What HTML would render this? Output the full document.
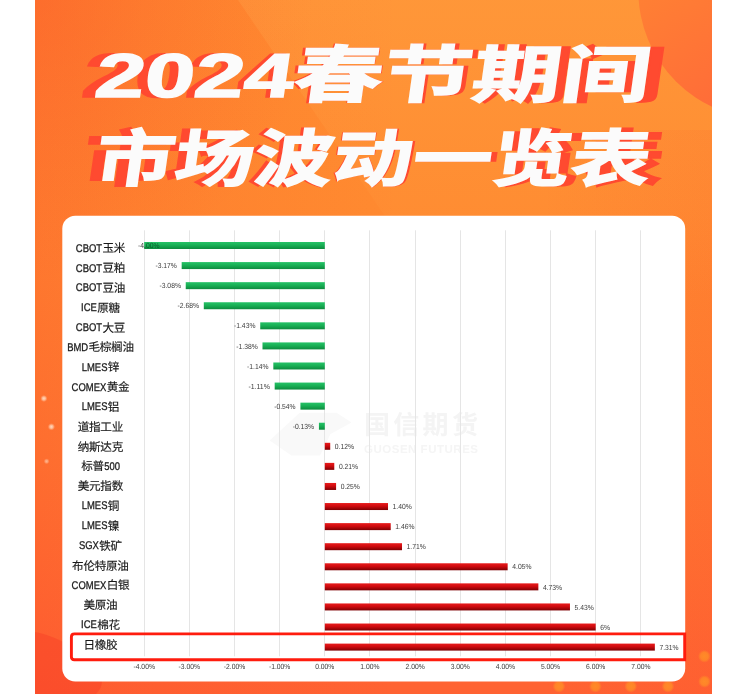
<!DOCTYPE html>
<html lang="zh"><head><meta charset="utf-8"><title>2024春节期间市场波动一览表</title>
<style>html,body{margin:0;padding:0;background:#fff}body{width:733px;height:694px;overflow:hidden;position:relative}svg{display:block;will-change:transform}text{font-family:"Liberation Sans",sans-serif;text-rendering:geometricPrecision}.t{position:absolute;left:0;top:0;width:733px;height:694px;overflow:hidden;color:transparent;font-family:"Liberation Sans",sans-serif;font-size:11px;line-height:13px;pointer-events:none}.t h1,.t span{position:absolute;margin:0;white-space:nowrap;font-weight:normal}.cj{font-family:"Liberation Sans","Noto Sans CJK SC",sans-serif}</style>
</head><body>
<svg width="733" height="694" viewBox="0 0 733 694">
<defs>
<linearGradient id="bg" x1="0" y1="0" x2="0" y2="1">
<stop offset="0" stop-color="#ff8e30"/><stop offset="0.3" stop-color="#ff8a30"/><stop offset="0.65" stop-color="#ff7a31"/><stop offset="1" stop-color="#ff6232"/></linearGradient>
<linearGradient id="bgl" gradientUnits="userSpaceOnUse" x1="35" y1="0" x2="400" y2="0">
<stop offset="0" stop-color="#fa3c28" stop-opacity="0.2"/><stop offset="0.3" stop-color="#fa3c28" stop-opacity="0.11"/><stop offset="1" stop-color="#fa3c28" stop-opacity="0"/></linearGradient>
<linearGradient id="bgr" gradientUnits="userSpaceOnUse" x1="712" y1="0" x2="540" y2="0"><stop offset="0" stop-color="#fa3c28" stop-opacity="0.09"/><stop offset="1" stop-color="#fa3c28" stop-opacity="0"/></linearGradient>
<radialGradient id="tl" gradientUnits="userSpaceOnUse" cx="35" cy="0" r="280"><stop offset="0" stop-color="#fa3c28" stop-opacity="0.25"/><stop offset="1" stop-color="#fa3c28" stop-opacity="0"/></radialGradient>
<linearGradient id="gg" x1="0" y1="0" x2="0" y2="1"><stop offset="0" stop-color="#27c268"/><stop offset="0.45" stop-color="#18b055"/><stop offset="1" stop-color="#0d8a3e"/></linearGradient>
<linearGradient id="rg" x1="0" y1="0" x2="0" y2="1"><stop offset="0" stop-color="#e81c1c"/><stop offset="0.45" stop-color="#cf0a0e"/><stop offset="1" stop-color="#7e0003"/></linearGradient>
<linearGradient id="cg" gradientUnits="userSpaceOnUse" x1="640" y1="0" x2="712" y2="110"><stop offset="0" stop-color="#ff7f34"/><stop offset="1" stop-color="#ff6c38"/></linearGradient>
<radialGradient id="glow"><stop offset="0" stop-color="#ffe6d2"/><stop offset="0.45" stop-color="#ffd0b0" stop-opacity="0.85"/><stop offset="1" stop-color="#ffb088" stop-opacity="0"/></radialGradient>
<linearGradient id="lt" x1="0" y1="0" x2="0" y2="1"><stop offset="0" stop-color="#ffd070" stop-opacity="0.13"/><stop offset="1" stop-color="#ffd070" stop-opacity="0"/></linearGradient>
<radialGradient id="dotg"><stop offset="0" stop-color="#ff9226" stop-opacity="0.85"/><stop offset="0.6" stop-color="#ff9226" stop-opacity="0.7"/><stop offset="1" stop-color="#ff9226" stop-opacity="0"/></radialGradient>
<clipPath id="oc"><rect x="35" y="0" width="677" height="694"/></clipPath>
<clipPath id="b0"><rect x="144.2" y="242" width="180.6" height="7"/></clipPath>
</defs>
<rect x="0" y="0" width="733" height="694" fill="#fff"/>
<g clip-path="url(#oc)">
<rect x="35" y="0" width="677" height="694" fill="url(#bg)"/>
<rect x="35" y="0" width="677" height="694" fill="url(#bgl)"/>
<rect x="35" y="0" width="300" height="300" fill="url(#tl)"/>
<rect x="540" y="130" width="172" height="564" fill="url(#bgr)"/>
<polygon points="238,0 712,0 712,300 442,300" fill="url(#lt)"/>
<path d="M35,632C55,636 80,648 95,666C104,678 104,686 96,694L35,694Z" fill="#f93c26" fill-opacity="0.42"/>
<circle cx="767" cy="-9.5" r="128.7" fill="url(#cg)"/>
<circle cx="704.4" cy="656.3" r="6.4" fill="url(#dotg)"/>
<circle cx="704.5" cy="681.5" r="6.4" fill="url(#dotg)"/>
<circle cx="595.4" cy="686.3" r="6.4" fill="url(#dotg)"/>
<circle cx="630.8" cy="686.3" r="6.4" fill="url(#dotg)"/>
<circle cx="668" cy="686.3" r="6.4" fill="url(#dotg)"/>
<circle cx="559" cy="686.3" r="6.4" fill="url(#dotg)"/>
<circle cx="43.9" cy="398.5" r="3.6" fill="url(#glow)" opacity="0.9"/>
<circle cx="51.4" cy="426.8" r="3.7" fill="url(#glow)" opacity="0.9"/>
<circle cx="46.6" cy="461.3" r="3.0" fill="url(#glow)" opacity="0.6"/>
</g>
<g fill="#ff4a30" stroke="#ff4a30" stroke-linejoin="miter" transform="translate(365,0) scale(1.048,1) translate(-365,0)"><text class="cj" transform="translate(93,97) skewX(-8)" font-size="62" font-weight="bold" stroke-width="1.5" textLength="555" lengthAdjust="spacingAndGlyphs">2024春节期间</text><text class="cj" transform="translate(93,181) skewX(-8)" font-size="62" font-weight="bold" stroke-width="1.5" textLength="555" lengthAdjust="spacingAndGlyphs">市场波动一览表</text></g>
<g fill="#fbfbfb" stroke="#fbfbfb" stroke-linejoin="miter"><text class="cj" transform="translate(93,97) skewX(-8)" font-size="62" font-weight="bold" stroke-width="1.5" textLength="555" lengthAdjust="spacingAndGlyphs">2024春节期间</text><text class="cj" transform="translate(93,181) skewX(-8)" font-size="62" font-weight="bold" stroke-width="1.5" textLength="555" lengthAdjust="spacingAndGlyphs">市场波动一览表</text></g>
<rect x="62.3" y="215.8" width="622.9" height="465.7" rx="13" ry="13" fill="#fff"/>
<g fill="#f4f4f4"><text class="cj" x="364" y="433.5" font-size="26" font-weight="bold" textLength="113.9" lengthAdjust="spacing">国信期货</text></g><polygon fill="#f9f9f9" points="269.8,440.5 299.8,412.8 336.5,412.8 351.5,422.5 330.5,434 320,455.5 291.5,455.5"/>
<text x="364" y="453" font-size="11.5" font-weight="bold" fill="#f5f5f5" textLength="114" lengthAdjust="spacing">GUOSEN FUTURES</text>
<rect x="144" y="230.3" width="1" height="426" fill="#e5e5e5"/>
<rect x="189" y="230.3" width="1" height="426" fill="#e5e5e5"/>
<rect x="234" y="230.3" width="1" height="426" fill="#e5e5e5"/>
<rect x="279" y="230.3" width="1" height="426" fill="#e5e5e5"/>
<rect x="324" y="230.3" width="1" height="426" fill="#e5e5e5"/>
<rect x="369" y="230.3" width="1" height="426" fill="#e5e5e5"/>
<rect x="415" y="230.3" width="1" height="426" fill="#e5e5e5"/>
<rect x="460" y="230.3" width="1" height="426" fill="#e5e5e5"/>
<rect x="505" y="230.3" width="1" height="426" fill="#e5e5e5"/>
<rect x="550" y="230.3" width="1" height="426" fill="#e5e5e5"/>
<rect x="595" y="230.3" width="1" height="426" fill="#e5e5e5"/>
<rect x="640" y="230.3" width="1" height="426" fill="#e5e5e5"/>
<text x="138" y="248.15" font-size="7.4" fill="#3a3a3a" textLength="21.45" lengthAdjust="spacingAndGlyphs">-4.00%</text>
<rect x="144.2" y="242" width="180.6" height="7" fill="url(#gg)"/>
<g clip-path="url(#b0)"><text x="138" y="248.15" font-size="7.4" fill="#0a5c2c" textLength="21.45" lengthAdjust="spacingAndGlyphs">-4.00%</text></g>
<text transform="translate(75.81,251.7) scale(0.845,1)" font-size="11.2" fill="#1a1a1a" stroke="#1a1a1a" stroke-width="0.3">CBOT</text>
<text class="cj" x="102.44" y="252.3" font-size="11.6" letter-spacing="-0.3" fill="#1a1a1a" stroke="#1a1a1a" stroke-width="0.16">玉米</text>
<rect x="181.67" y="262.08" width="143.13" height="7" fill="url(#gg)"/>
<text x="155.42" y="268.23" font-size="7.4" fill="#3a3a3a" textLength="21.45" lengthAdjust="spacingAndGlyphs">-3.17%</text>
<text transform="translate(75.81,271.53) scale(0.845,1)" font-size="11.2" fill="#1a1a1a" stroke="#1a1a1a" stroke-width="0.3">CBOT</text>
<text class="cj" x="102.44" y="272.13" font-size="11.6" letter-spacing="-0.3" fill="#1a1a1a" stroke="#1a1a1a" stroke-width="0.16">豆粕</text>
<rect x="185.74" y="282.16" width="139.06" height="7" fill="url(#gg)"/>
<text x="159.48" y="288.31" font-size="7.4" fill="#3a3a3a" textLength="21.45" lengthAdjust="spacingAndGlyphs">-3.08%</text>
<text transform="translate(75.81,291.36) scale(0.845,1)" font-size="11.2" fill="#1a1a1a" stroke="#1a1a1a" stroke-width="0.3">CBOT</text>
<text class="cj" x="102.44" y="291.96" font-size="11.6" letter-spacing="-0.3" fill="#1a1a1a" stroke="#1a1a1a" stroke-width="0.16">豆油</text>
<rect x="203.8" y="302.24" width="121" height="7" fill="url(#gg)"/>
<text x="177.54" y="308.39" font-size="7.4" fill="#3a3a3a" textLength="21.45" lengthAdjust="spacingAndGlyphs">-2.68%</text>
<text transform="translate(81.06,311.19) scale(0.845,1)" font-size="11.2" fill="#1a1a1a" stroke="#1a1a1a" stroke-width="0.3">ICE</text>
<text class="cj" x="97.19" y="311.79" font-size="11.6" letter-spacing="-0.3" fill="#1a1a1a" stroke="#1a1a1a" stroke-width="0.16">原糖</text>
<rect x="260.24" y="322.32" width="64.56" height="7" fill="url(#gg)"/>
<text x="233.98" y="328.47" font-size="7.4" fill="#3a3a3a" textLength="21.45" lengthAdjust="spacingAndGlyphs">-1.43%</text>
<text transform="translate(75.81,331.02) scale(0.845,1)" font-size="11.2" fill="#1a1a1a" stroke="#1a1a1a" stroke-width="0.3">CBOT</text>
<text class="cj" x="102.44" y="331.62" font-size="11.6" letter-spacing="-0.3" fill="#1a1a1a" stroke="#1a1a1a" stroke-width="0.16">大豆</text>
<rect x="262.49" y="342.4" width="62.31" height="7" fill="url(#gg)"/>
<text x="236.24" y="348.55" font-size="7.4" fill="#3a3a3a" textLength="21.45" lengthAdjust="spacingAndGlyphs">-1.38%</text>
<text transform="translate(67.13,350.85) scale(0.845,1)" font-size="11.2" fill="#1a1a1a" stroke="#1a1a1a" stroke-width="0.3">BMD</text>
<text class="cj" x="88.52" y="351.45" font-size="11.6" letter-spacing="-0.3" fill="#1a1a1a" stroke="#1a1a1a" stroke-width="0.16">毛棕榈油</text>
<rect x="273.33" y="362.48" width="51.47" height="7" fill="url(#gg)"/>
<text x="247.08" y="368.63" font-size="7.4" fill="#3a3a3a" textLength="21.45" lengthAdjust="spacingAndGlyphs">-1.14%</text>
<text transform="translate(81.71,370.68) scale(0.845,1)" font-size="11.2" fill="#1a1a1a" stroke="#1a1a1a" stroke-width="0.3">LMES</text>
<text class="cj" x="107.84" y="371.28" font-size="11.6" letter-spacing="-0.3" fill="#1a1a1a" stroke="#1a1a1a" stroke-width="0.16">锌</text>
<rect x="274.68" y="382.56" width="50.12" height="7" fill="url(#gg)"/>
<text x="248.43" y="388.71" font-size="7.4" fill="#3a3a3a" textLength="21.45" lengthAdjust="spacingAndGlyphs">-1.11%</text>
<text transform="translate(71.6,390.51) scale(0.845,1)" font-size="11.2" fill="#1a1a1a" stroke="#1a1a1a" stroke-width="0.3">COMEX</text>
<text class="cj" x="106.65" y="391.11" font-size="11.6" letter-spacing="-0.3" fill="#1a1a1a" stroke="#1a1a1a" stroke-width="0.16">黄金</text>
<rect x="300.42" y="402.64" width="24.38" height="7" fill="url(#gg)"/>
<text x="274.17" y="408.79" font-size="7.4" fill="#3a3a3a" textLength="21.45" lengthAdjust="spacingAndGlyphs">-0.54%</text>
<text transform="translate(81.71,410.34) scale(0.845,1)" font-size="11.2" fill="#1a1a1a" stroke="#1a1a1a" stroke-width="0.3">LMES</text>
<text class="cj" x="107.84" y="410.94" font-size="11.6" letter-spacing="-0.3" fill="#1a1a1a" stroke="#1a1a1a" stroke-width="0.16">铝</text>
<rect x="318.93" y="422.72" width="5.87" height="7" fill="url(#gg)"/>
<text x="292.68" y="428.87" font-size="7.4" fill="#3a3a3a" textLength="21.45" lengthAdjust="spacingAndGlyphs">-0.13%</text>
<text class="cj" x="77.75" y="430.77" font-size="11.6" letter-spacing="-0.3" fill="#1a1a1a" stroke="#1a1a1a" stroke-width="0.16">道指工业</text>
<rect x="324.8" y="442.8" width="5.42" height="7" fill="url(#rg)"/>
<text x="334.82" y="448.95" font-size="7.4" fill="#3a3a3a" textLength="19.2" lengthAdjust="spacingAndGlyphs">0.12%</text>
<text class="cj" x="77.75" y="450.6" font-size="11.6" letter-spacing="-0.3" fill="#1a1a1a" stroke="#1a1a1a" stroke-width="0.16">纳斯达克</text>
<rect x="324.8" y="462.88" width="9.48" height="7" fill="url(#rg)"/>
<text x="338.88" y="469.03" font-size="7.4" fill="#3a3a3a" textLength="19.2" lengthAdjust="spacingAndGlyphs">0.21%</text>
<text class="cj" x="81.15" y="470.43" font-size="11.6" letter-spacing="-0.3" fill="#1a1a1a" stroke="#1a1a1a" stroke-width="0.16">标普</text>
<text transform="translate(104.2,469.83) scale(0.845,1)" font-size="11.2" fill="#1a1a1a" stroke="#1a1a1a" stroke-width="0.3">500</text>
<rect x="324.8" y="482.96" width="11.29" height="7" fill="url(#rg)"/>
<text x="340.69" y="489.11" font-size="7.4" fill="#3a3a3a" textLength="19.2" lengthAdjust="spacingAndGlyphs">0.25%</text>
<text class="cj" x="77.75" y="490.26" font-size="11.6" letter-spacing="-0.3" fill="#1a1a1a" stroke="#1a1a1a" stroke-width="0.16">美元指数</text>
<rect x="324.8" y="503.04" width="63.21" height="7" fill="url(#rg)"/>
<text x="392.61" y="509.19" font-size="7.4" fill="#3a3a3a" textLength="19.2" lengthAdjust="spacingAndGlyphs">1.40%</text>
<text transform="translate(81.71,509.49) scale(0.845,1)" font-size="11.2" fill="#1a1a1a" stroke="#1a1a1a" stroke-width="0.3">LMES</text>
<text class="cj" x="107.84" y="510.09" font-size="11.6" letter-spacing="-0.3" fill="#1a1a1a" stroke="#1a1a1a" stroke-width="0.16">铜</text>
<rect x="324.8" y="523.12" width="65.92" height="7" fill="url(#rg)"/>
<text x="395.32" y="529.27" font-size="7.4" fill="#3a3a3a" textLength="19.2" lengthAdjust="spacingAndGlyphs">1.46%</text>
<text transform="translate(81.71,529.32) scale(0.845,1)" font-size="11.2" fill="#1a1a1a" stroke="#1a1a1a" stroke-width="0.3">LMES</text>
<text class="cj" x="107.84" y="529.92" font-size="11.6" letter-spacing="-0.3" fill="#1a1a1a" stroke="#1a1a1a" stroke-width="0.16">镍</text>
<rect x="324.8" y="543.2" width="77.21" height="7" fill="url(#rg)"/>
<text x="406.61" y="549.35" font-size="7.4" fill="#3a3a3a" textLength="19.2" lengthAdjust="spacingAndGlyphs">1.71%</text>
<text transform="translate(78.96,549.15) scale(0.845,1)" font-size="11.2" fill="#1a1a1a" stroke="#1a1a1a" stroke-width="0.3">SGX</text>
<text class="cj" x="99.29" y="549.75" font-size="11.6" letter-spacing="-0.3" fill="#1a1a1a" stroke="#1a1a1a" stroke-width="0.16">铁矿</text>
<rect x="324.8" y="563.28" width="182.86" height="7" fill="url(#rg)"/>
<text x="512.26" y="569.43" font-size="7.4" fill="#3a3a3a" textLength="19.2" lengthAdjust="spacingAndGlyphs">4.05%</text>
<text class="cj" x="72.1" y="569.58" font-size="11.6" letter-spacing="-0.3" fill="#1a1a1a" stroke="#1a1a1a" stroke-width="0.16">布伦特原油</text>
<rect x="324.8" y="583.36" width="213.56" height="7" fill="url(#rg)"/>
<text x="542.96" y="589.51" font-size="7.4" fill="#3a3a3a" textLength="19.2" lengthAdjust="spacingAndGlyphs">4.73%</text>
<text transform="translate(71.6,588.81) scale(0.845,1)" font-size="11.2" fill="#1a1a1a" stroke="#1a1a1a" stroke-width="0.3">COMEX</text>
<text class="cj" x="106.65" y="589.41" font-size="11.6" letter-spacing="-0.3" fill="#1a1a1a" stroke="#1a1a1a" stroke-width="0.16">白银</text>
<rect x="324.8" y="603.44" width="245.16" height="7" fill="url(#rg)"/>
<text x="574.56" y="609.59" font-size="7.4" fill="#3a3a3a" textLength="19.2" lengthAdjust="spacingAndGlyphs">5.43%</text>
<text class="cj" x="83.4" y="609.24" font-size="11.6" letter-spacing="-0.3" fill="#1a1a1a" stroke="#1a1a1a" stroke-width="0.16">美原油</text>
<rect x="324.8" y="623.52" width="270.9" height="7" fill="url(#rg)"/>
<text x="600.3" y="629.67" font-size="7.4" fill="#3a3a3a" textLength="9.79" lengthAdjust="spacingAndGlyphs">6%</text>
<text transform="translate(81.06,628.47) scale(0.845,1)" font-size="11.2" fill="#1a1a1a" stroke="#1a1a1a" stroke-width="0.3">ICE</text>
<text class="cj" x="97.19" y="629.07" font-size="11.6" letter-spacing="-0.3" fill="#1a1a1a" stroke="#1a1a1a" stroke-width="0.16">棉花</text>
<rect x="324.8" y="643.6" width="330.05" height="7" fill="url(#rg)"/>
<text x="659.45" y="649.75" font-size="7.4" fill="#3a3a3a" textLength="19.2" lengthAdjust="spacingAndGlyphs">7.31%</text>
<text class="cj" x="83.4" y="648.9" font-size="11.6" letter-spacing="-0.3" fill="#1a1a1a" stroke="#1a1a1a" stroke-width="0.16">日橡胶</text>
<path d="M684.7,633.9H74.4Q71.4,633.9 71.4,636.9V656.8Q71.4,659.8 74.4,659.8H684.7Z" fill="none" stroke="#ff1c0e" stroke-width="2.9" stroke-linejoin="miter"/>
<text x="133.47" y="669" font-size="7.4" fill="#3a3a3a" textLength="21.45" lengthAdjust="spacingAndGlyphs">-4.00%</text>
<text x="178.62" y="669" font-size="7.4" fill="#3a3a3a" textLength="21.45" lengthAdjust="spacingAndGlyphs">-3.00%</text>
<text x="223.77" y="669" font-size="7.4" fill="#3a3a3a" textLength="21.45" lengthAdjust="spacingAndGlyphs">-2.00%</text>
<text x="268.92" y="669" font-size="7.4" fill="#3a3a3a" textLength="21.45" lengthAdjust="spacingAndGlyphs">-1.00%</text>
<text x="315.2" y="669" font-size="7.4" fill="#3a3a3a" textLength="19.2" lengthAdjust="spacingAndGlyphs">0.00%</text>
<text x="360.35" y="669" font-size="7.4" fill="#3a3a3a" textLength="19.2" lengthAdjust="spacingAndGlyphs">1.00%</text>
<text x="405.5" y="669" font-size="7.4" fill="#3a3a3a" textLength="19.2" lengthAdjust="spacingAndGlyphs">2.00%</text>
<text x="450.65" y="669" font-size="7.4" fill="#3a3a3a" textLength="19.2" lengthAdjust="spacingAndGlyphs">3.00%</text>
<text x="495.8" y="669" font-size="7.4" fill="#3a3a3a" textLength="19.2" lengthAdjust="spacingAndGlyphs">4.00%</text>
<text x="540.95" y="669" font-size="7.4" fill="#3a3a3a" textLength="19.2" lengthAdjust="spacingAndGlyphs">5.00%</text>
<text x="586.1" y="669" font-size="7.4" fill="#3a3a3a" textLength="19.2" lengthAdjust="spacingAndGlyphs">6.00%</text>
<text x="631.25" y="669" font-size="7.4" fill="#3a3a3a" textLength="19.2" lengthAdjust="spacingAndGlyphs">7.00%</text>
</svg>
<div class="t"><h1 style="left:91px;top:36px;font-size:62px;line-height:68px">2024春节期间</h1><h1 style="left:91px;top:121px;font-size:62px;line-height:68px">市场波动一览表</h1><span style="left:364px;top:409px;font-size:26px">国信期货</span><span style="left:62px;top:242px;width:78px;text-align:center">CBOT玉米</span><span style="left:62px;top:261.83px;width:78px;text-align:center">CBOT豆粕</span><span style="left:62px;top:281.66px;width:78px;text-align:center">CBOT豆油</span><span style="left:62px;top:301.49px;width:78px;text-align:center">ICE原糖</span><span style="left:62px;top:321.32px;width:78px;text-align:center">CBOT大豆</span><span style="left:62px;top:341.15px;width:78px;text-align:center">BMD毛棕榈油</span><span style="left:62px;top:360.98px;width:78px;text-align:center">LMES锌</span><span style="left:62px;top:380.81px;width:78px;text-align:center">COMEX黄金</span><span style="left:62px;top:400.64px;width:78px;text-align:center">LMES铝</span><span style="left:62px;top:420.47px;width:78px;text-align:center">道指工业</span><span style="left:62px;top:440.3px;width:78px;text-align:center">纳斯达克</span><span style="left:62px;top:460.13px;width:78px;text-align:center">标普500</span><span style="left:62px;top:479.96px;width:78px;text-align:center">美元指数</span><span style="left:62px;top:499.79px;width:78px;text-align:center">LMES铜</span><span style="left:62px;top:519.62px;width:78px;text-align:center">LMES镍</span><span style="left:62px;top:539.45px;width:78px;text-align:center">SGX铁矿</span><span style="left:62px;top:559.28px;width:78px;text-align:center">布伦特原油</span><span style="left:62px;top:579.11px;width:78px;text-align:center">COMEX白银</span><span style="left:62px;top:598.94px;width:78px;text-align:center">美原油</span><span style="left:62px;top:618.77px;width:78px;text-align:center">ICE棉花</span><span style="left:62px;top:638.6px;width:78px;text-align:center">日橡胶</span></div>
</body></html>
